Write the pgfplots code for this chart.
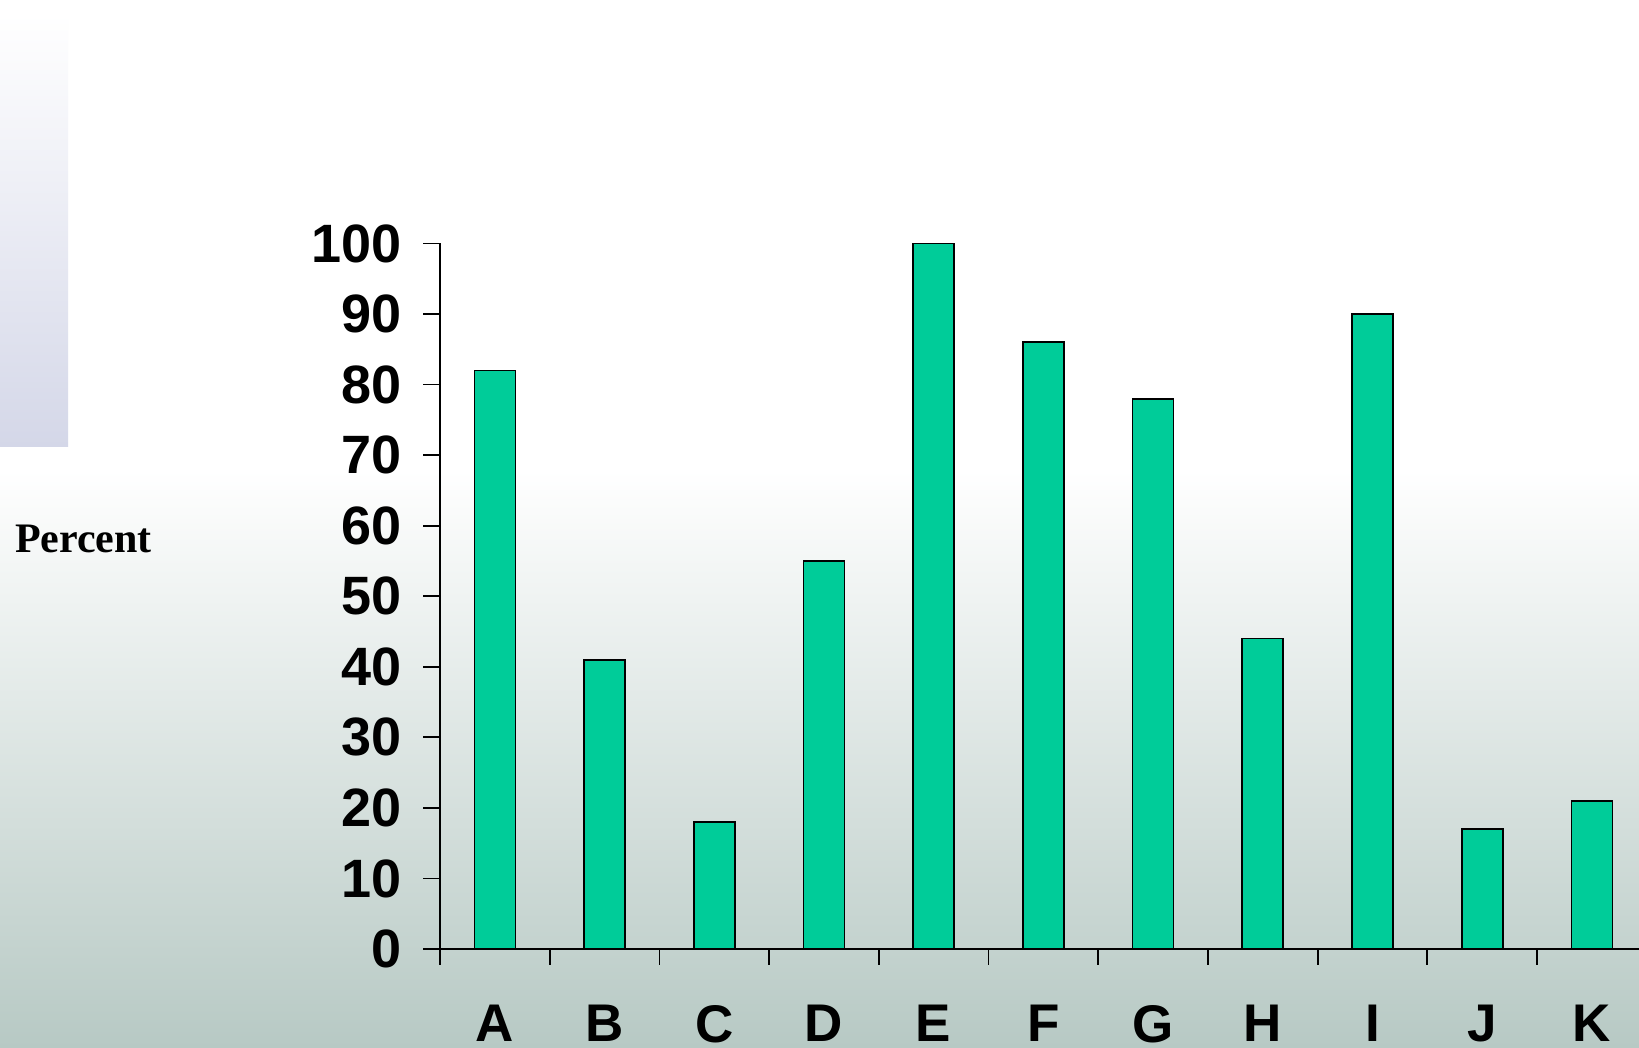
\documentclass[border=0pt]{standalone}
\usepackage{fontspec}
\setmainfont{Liberation Sans}
\newfontfamily\timesfont{Liberation Serif}
\usepackage{pgfplots}
\pgfplotsset{compat=1.18}
\definecolor{barc}{RGB}{0,204,153}
\definecolor{bgbot}{RGB}{183,201,196}
\definecolor{lav}{RGB}{212,215,232}
\begin{document}
\begin{tikzpicture}
\useasboundingbox (0,0) rectangle (819.5pt,524pt);
\clip (0,0) rectangle (819.5pt,524pt);
\fill[white] (0,0) rectangle (819.5pt,524pt);
\shade[top color=white,bottom color=bgbot] (0,0) rectangle (819.5pt,289pt);
\shade[top color=white,bottom color=lav] (0,300.5pt) rectangle (34pt,517pt);
\node[anchor=base west,inner sep=0pt,font=\timesfont\bfseries\fontsize{21}{24}\selectfont] at (7.3pt,247.5pt) {Percent};
\begin{axis}[
  at={(220pt,49.5pt)}, anchor=south west,
  scale only axis, width=603.35pt, height=352.75pt,
  xmin=0, xmax=11, ymin=0, ymax=100,
  axis x line=bottom, axis y line=left,
  axis line style={-, line width=0.9pt},
  every tick/.style={black, line width=0.9pt},
  tick align=outside,
  major tick length=8.5pt,
  minor tick length=8pt,
  ytick={0,10,...,100},
  xtick={0.5,1.5,...,10.5},
  xticklabels={A,B,C,D,E,F,G,H,I,J,K},
  minor xtick={0,1,...,11},
  major x tick style={draw=none},
  /pgf/number format/assume math mode=true,
  yticklabel style={font=\bfseries\fontsize{27}{27}\selectfont, inner sep=0pt, anchor=east, xshift=-10.5pt},
  xticklabel style={font=\bfseries\fontsize{26.5}{26.5}\selectfont, inner sep=0pt, anchor=north, yshift=-19.5pt},
  ybar, bar width=20.5pt, bar shift=0pt,
]
\addplot[fill=barc, draw=black, line width=0.85pt] coordinates {
(0.5,82) (1.5,41) (2.5,18) (3.5,55) (4.5,100) (5.5,86) (6.5,78) (7.5,44) (8.5,90) (9.5,17) (10.5,21)};
\end{axis}
\end{tikzpicture}
\end{document}
